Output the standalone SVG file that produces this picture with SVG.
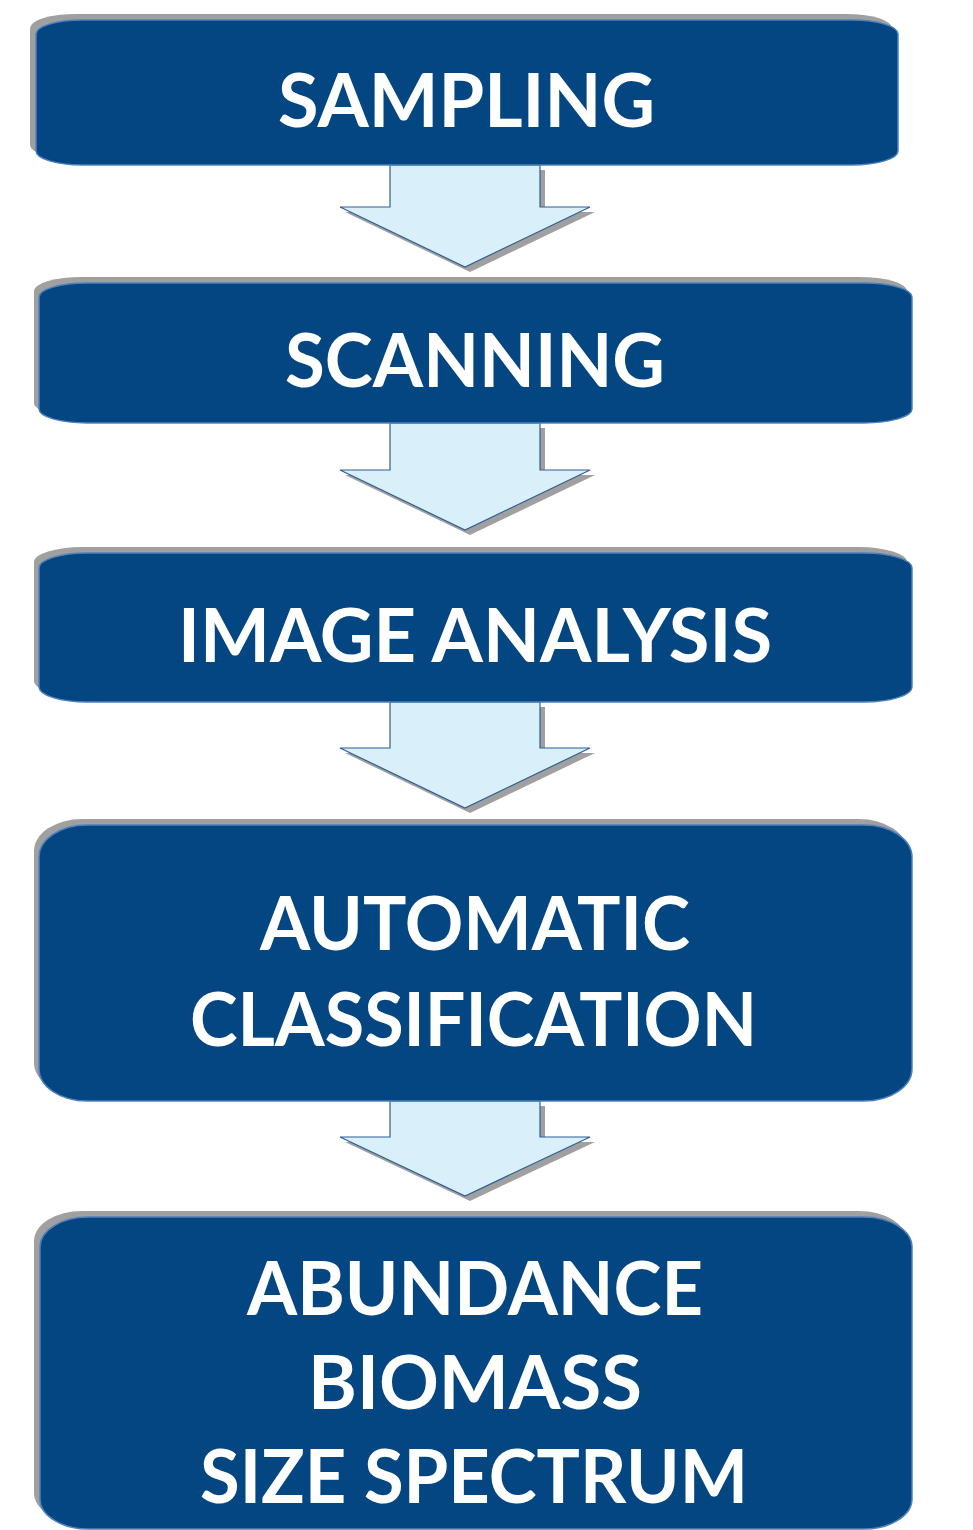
<svg xmlns="http://www.w3.org/2000/svg" width="973" height="1530" viewBox="0 0 973 1530">
<style>
.sh{fill:#a0a0a0}
.box{fill:#034681;stroke:#4f81bd;stroke-width:1.5}
.arr{fill:#d9f0fa;stroke:#2f5f9a;stroke-width:1.2}
.t{fill:#ffffff;font-family:Lato,"Open Sans",sans-serif;font-weight:bold;font-size:75px;text-anchor:middle}
</style>
<rect width="973" height="1530" fill="#ffffff"/>
<g id="connectors">
<g id="a1">
<path class="sh" d="M395 170 H545 V212 H595 L470 272 L345 212 H395 Z"/>
<path class="arr" d="M390 165 H540 V207 H590 L465 267 L340 207 H390 Z"/>
</g>
<g id="a2">
<path class="sh" d="M395 428 H545 V475 H595 L470 535 L345 475 H395 Z"/>
<path class="arr" d="M390 423 H540 V470 H590 L465 530 L340 470 H390 Z"/>
</g>
<g id="a3">
<path class="sh" d="M395 707 H545 V753 H595 L470 813 L345 753 H395 Z"/>
<path class="arr" d="M390 702 H540 V748 H590 L465 808 L340 748 H390 Z"/>
</g>
<g id="a4">
<path class="sh" d="M395 1106 H545 V1142 H595 L470 1201 L345 1142 H395 Z"/>
<path class="arr" d="M390 1101 H540 V1137 H590 L465 1196 L340 1137 H390 Z"/>
</g>
</g>
<g id="n1">
<rect class="sh" x="30" y="14" width="862" height="145" rx="46" ry="14"/>
<rect class="box" x="36" y="20" width="862" height="145" rx="46" ry="14"/>
<text class="t" x="466.5" y="127" textLength="377" lengthAdjust="spacingAndGlyphs">SAMPLING</text>
</g>
<g id="n2">
<rect class="sh" x="34" y="277" width="873" height="140" rx="48" ry="14"/>
<rect class="box" x="39" y="283" width="873" height="140" rx="48" ry="14"/>
<text class="t" x="475" y="387" textLength="380" lengthAdjust="spacingAndGlyphs">SCANNING</text>
</g>
<g id="n3">
<rect class="sh" x="34" y="547" width="873" height="149" rx="48" ry="15"/>
<rect class="box" x="39" y="553" width="873" height="149" rx="48" ry="15"/>
<text class="t" x="475" y="662" textLength="594" lengthAdjust="spacingAndGlyphs">IMAGE ANALYSIS</text>
</g>
<g id="n4">
<rect class="sh" x="34" y="819" width="873" height="276" rx="48" ry="32"/>
<rect class="box" x="39" y="825" width="873" height="276" rx="48" ry="32"/>
<text class="t" x="475" y="950" textLength="430" lengthAdjust="spacingAndGlyphs">AUTOMATIC</text>
<text class="t" x="473.5" y="1046" textLength="567" lengthAdjust="spacingAndGlyphs">CLASSIFICATION</text>
</g>
<g id="n5">
<rect class="sh" x="34" y="1211" width="873" height="312" rx="48" ry="30"/>
<rect class="box" x="40" y="1217" width="872" height="312" rx="48" ry="30"/>
<text class="t" x="475" y="1315" textLength="456" lengthAdjust="spacingAndGlyphs">ABUNDANCE</text>
<text class="t" x="475" y="1409" textLength="334" lengthAdjust="spacingAndGlyphs">BIOMASS</text>
<text class="t" x="474" y="1503" textLength="548" lengthAdjust="spacingAndGlyphs">SIZE SPECTRUM</text>
</g>
</svg>
